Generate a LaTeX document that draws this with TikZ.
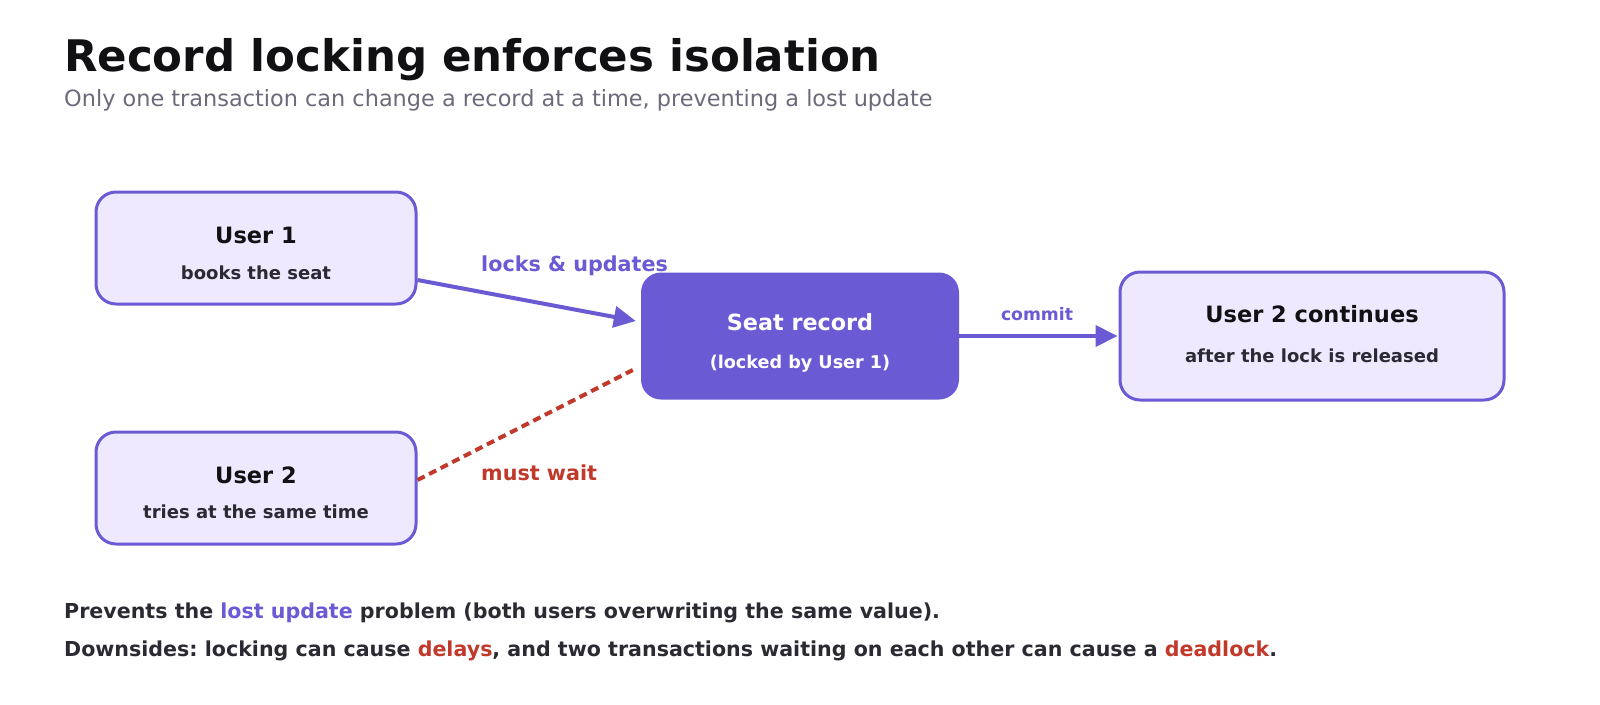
\documentclass[tikz,border=0pt]{standalone}
\usepackage{fontspec}
\setmainfont{DejaVu Sans}
\usetikzlibrary{arrows.meta}
\definecolor{lockpurple}{RGB}{106,90,212}
\definecolor{lockfill}{RGB}{238,233,255}
\definecolor{waitred}{RGB}{192,57,43}
\definecolor{inktitle}{RGB}{17,17,20}
\definecolor{inkgray}{RGB}{107,106,122}
\definecolor{inkbody}{RGB}{43,42,51}
\newcommand{\Pu}{\textcolor{lockpurple}}
\newcommand{\Rd}{\textcolor{waitred}}
\newcommand{\fs}[1]{\fontsize{#1}{#1}\selectfont}
\frenchspacing

\begin{document}
\begin{tikzpicture}[x=1pt, y=-1pt,
  userbox/.style={draw=lockpurple, fill=lockfill, line width=3pt, rounded corners=20pt, inner sep=0pt},
  lockbox/.style={fill=lockpurple, rounded corners=20pt, inner sep=0pt},
  headtxt/.style={anchor=base, inner sep=0pt, font=\fs{22.5}\bfseries, text=inktitle},
  subtxt/.style={anchor=base, inner sep=0pt, font=\fs{18}\bfseries, text=inkbody},
  note/.style={anchor=base west, inner sep=0pt, font=\fs{20.6}\bfseries, text=inkbody},
  flow/.style={line width=4pt, lockpurple, -{Triangle[length=22pt,width=21pt]}}]
\useasboundingbox (0,0) rectangle (1600,704);
%%%%%%%%% heading
\node [anchor=base west, inner sep=0pt, font=\fs{43.5}\bfseries, text=inktitle] (title) at (64,71) {Record locking enforces isolation};
\node [anchor=base west, inner sep=0pt, font=\fs{22.4}, text=inkgray] (subtitle) at (64,106) {Only one transaction can change a record at a time, preventing a lost update};
%%%%%%%%% boxes
\node [userbox, minimum width=320, minimum height=112] (user1) at (256,248) {};
\node [headtxt] (user1h) at (256,243) {User 1};
\node [subtxt] (user1s) at (256,279) {books the seat};
\node [userbox, minimum width=320, minimum height=112] (user2) at (256,488) {};
\node [headtxt] (user2h) at (256,483) {User 2};
\node [subtxt] (user2s) at (256,518) {tries at the same time};
\node [lockbox, minimum width=318, minimum height=127] (seat) at (800,336) {};
\node [headtxt, font=\fs{22.3}\bfseries, text=white] (seath) at (800,330) {Seat record};
\node [subtxt, font=\fs{17.6}\bfseries, text=white] (seats) at (800,368) {(locked by User 1)};
\node [userbox, minimum width=384, minimum height=128] (user2c) at (1312,336) {};
\node [headtxt] (user2ch) at (1312,322) {User 2 continues};
\node [subtxt] (user2cs) at (1312,362) {after the lock is released};
%%%%%%%%% connectors
\draw [flow] ([yshift=-32pt]user1.east) -- ([xshift=-5pt,yshift=15pt]seat.west);
\node [anchor=base west, inner sep=0pt, font=\fs{20.7}\bfseries, text=lockpurple] (locks) at (481,271) {locks \& updates};
\draw [line width=4pt, waitred, dash pattern=on 8pt off 5pt] ([yshift=8pt]user2.east) -- ([xshift=-8pt,yshift=-34pt]seat.west);
\node [anchor=base west, inner sep=0pt, font=\fs{20.7}\bfseries, text=waitred] (wait) at (481,480) {must wait};
\draw [flow, shorten >=1pt] (seat.east) -- (user2c.west);
\node [anchor=base, inner sep=0pt, font=\fs{17.2}\bfseries, text=lockpurple] (commit) at (1037,320) {commit};
%%%%%%%%% notes
\node [note] (note1) at (64,618) {Prevents the \Pu{lost update} problem (both users overwriting the same value).};
\node [note] (note2) at (64,656) {Downsides: locking can cause \Rd{delays}, and two transactions waiting on each other can cause a \Rd{deadlock}.};
\end{tikzpicture}
\end{document}
